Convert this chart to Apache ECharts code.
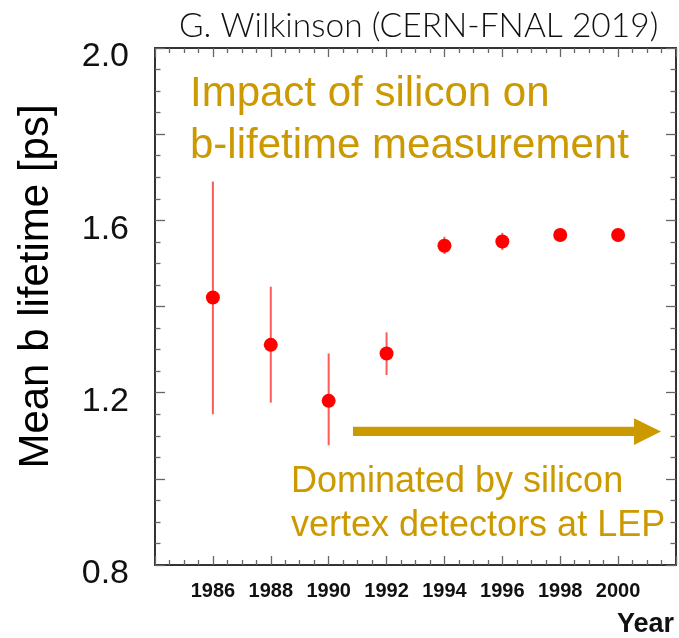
<!DOCTYPE html>
<html>
<head>
<meta charset="utf-8">
<script src="https://cdn.jsdelivr.net/npm/echarts@6/dist/echarts.min.js"></script>
<style>
html,body{margin:0;padding:0;background:#fff;}
#chart{width:679px;height:638px;}
</style>
</head>
<body>
<div id="chart"></div>
<script>
// ---- data ----
const years = [1986, 1988, 1990, 1992, 1994, 1996, 1998, 2000];
const lifetime = [1.421, 1.311, 1.181, 1.291, 1.541, 1.551, 1.566, 1.566];
const errLow = [1.150, 1.177, 1.078, 1.241, 1.522, 1.531, 1.560, 1.560];
const errHigh = [1.690, 1.446, 1.291, 1.340, 1.562, 1.571, 1.572, 1.572];
const yTickLabels = ['0.8', '1.2', '1.6', '2.0'];
const xTickLabels = ['1986', '1988', '1990', '1992', '1994', '1996', '1998', '2000'];
const titleText = 'G. Wilkinson (CERN-FNAL 2019)';
const noteTop = 'Impact of silicon on\nb-lifetime measurement';
const noteBottom = 'Dominated by silicon\nvertex detectors at LEP';

const GOLD = '#cc9900';
const FONT = '"Liberation Sans", Arial, Helvetica, sans-serif';

const points = years.map((y, i) => [y, lifetime[i]]);
const bars = years.map((y, i) => [y, errLow[i], errHigh[i]]);

const chart = echarts.init(document.getElementById('chart'), null, {renderer: 'canvas'});

const axisLineStyle = {color: '#333', width: 2};
const tickStyle = {color: '#666', width: 1.3};

const option = {
  animation: false,
  backgroundColor: '#fff',
  title: {
    text: titleText,
    left: 174,
    top: 4,
    textStyle: {fontFamily: 'Lato, "Open Sans", sans-serif', fontWeight: 300, fontSize: 33.5, color: '#111'}
  },
  grid: {left: 155, top: 48, width: 522, height: 517, containLabel: false},
  xAxis: [{
    type: 'value', position: 'bottom', min: 1984, max: 2002, interval: 2,
    axisLine: {show: true, lineStyle: axisLineStyle},
    axisTick: {show: true, inside: true, length: 9, lineStyle: tickStyle},
    minorTick: {show: true, splitNumber: 4, length: 5, lineStyle: tickStyle},
    splitLine: {show: false},
    axisLabel: {
      margin: 16, fontFamily: FONT, fontWeight: 'bold', fontSize: 20, color: '#111',
      formatter: v => xTickLabels.indexOf(String(v)) >= 0 ? String(v) : ''
    },
    name: 'Year', nameLocation: 'end', nameGap: -2,
    nameTextStyle: {fontFamily: FONT, fontWeight: 'bold', fontSize: 27, color: '#111',
      align: 'right', verticalAlign: 'top', padding: [46, 0, 0, 0]}
  }, {
    type: 'value', position: 'top', min: 1984, max: 2002, interval: 2,
    axisLine: {show: true, lineStyle: axisLineStyle},
    axisTick: {show: true, inside: true, length: 9, lineStyle: tickStyle},
    minorTick: {show: true, splitNumber: 4, length: 5, lineStyle: tickStyle},
    splitLine: {show: false}, axisLabel: {show: false}
  }],
  yAxis: [{
    type: 'value', position: 'left', min: 0.8, max: 2.0, interval: 0.2,
    axisLine: {show: true, lineStyle: axisLineStyle},
    axisTick: {show: true, inside: true, length: 10, lineStyle: tickStyle},
    minorTick: {show: true, splitNumber: 4, length: 5.5, lineStyle: tickStyle},
    splitLine: {show: false},
    axisLabel: {
      margin: 26, fontFamily: FONT, fontSize: 34, color: '#111',
      verticalAlign: 'top', lineHeight: 18,
      formatter: v => { const s = v.toFixed(1); return yTickLabels.indexOf(s) >= 0 ? s : ''; }
    },
    name: 'Mean b lifetime [ps]', nameLocation: 'middle', nameRotate: 90, nameGap: 98,
    nameTextStyle: {fontFamily: FONT, fontSize: 42, color: '#000', padding: [0, 0, 0, 40]}
  }, {
    type: 'value', position: 'right', min: 0.8, max: 2.0, interval: 0.2,
    axisLine: {show: true, lineStyle: axisLineStyle},
    axisTick: {show: true, inside: true, length: 10, lineStyle: tickStyle},
    minorTick: {show: true, splitNumber: 4, length: 5.5, lineStyle: tickStyle},
    splitLine: {show: false}, axisLabel: {show: false}
  }],
  series: [{
    type: 'custom',
    name: 'error',
    xAxisIndex: 0, yAxisIndex: 0,
    data: bars,
    renderItem: function (params, api) {
      const x = api.value(0);
      const lo = api.coord([x, api.value(1)]);
      const hi = api.coord([x, api.value(2)]);
      return {
        type: 'line',
        shape: {x1: lo[0], y1: lo[1], x2: hi[0], y2: hi[1]},
        style: {stroke: '#ff5a5a', lineWidth: 2}
      };
    },
    z: 2
  }, {
    type: 'scatter',
    name: 'Mean b lifetime',
    xAxisIndex: 0, yAxisIndex: 0,
    data: points,
    symbol: 'circle', symbolSize: 14,
    itemStyle: {color: '#ff0000', opacity: 1},
    z: 3
  }],
  graphic: [{
    type: 'text', left: 190, top: 68, z: 10,
    style: {text: noteTop, font: '42px ' + FONT, lineHeight: 52, fill: GOLD}
  }, {
    type: 'text', left: 291, top: 460, z: 10,
    style: {text: noteBottom, font: '36px ' + FONT, lineHeight: 44, fill: GOLD}
  }, {
    type: 'rect', z: 10,
    shape: {x: 353, y: 426.7, width: 282, height: 9.3},
    style: {fill: GOLD}
  }, {
    type: 'polygon', z: 10,
    shape: {points: [[634, 418.3], [661, 431.5], [634, 445]]},
    style: {fill: GOLD}
  }]
};
chart.setOption(option);
</script>
</body>
</html>
